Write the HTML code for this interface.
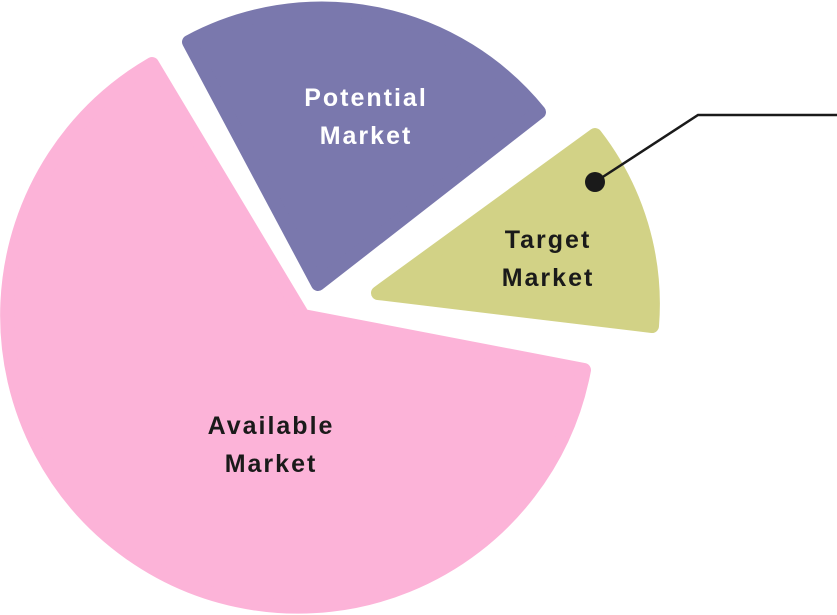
<!DOCTYPE html>
<html><head><meta charset="utf-8"><style>
html,body{margin:0;padding:0;background:#fff;}
svg{display:block;}
text{font-family:"Liberation Sans",sans-serif;font-weight:bold;font-size:25px;letter-spacing:2px;text-anchor:middle;}
</style></head><body>
<svg width="837" height="615" viewBox="0 0 837 615">
<g stroke-linejoin="round" stroke-width="14">
<path d="M303,316 L152,64 A291,291 0 1 0 584,370 Z" fill="#fcb3d8" stroke="#fcb3d8"/>
<path d="M318,284 L189,42 A280,280 0 0 1 539,112 Z" fill="#7a78ad" stroke="#7a78ad"/>
<path d="M378,293 L595,135 A276,276 0 0 1 652,326 Z" fill="#d2d286" stroke="#d2d286"/>
</g>
<polyline points="595,182 698,115 837,115" fill="none" stroke="#1a1a1a" stroke-width="2.5"/>
<circle cx="595" cy="182" r="10" fill="#1a1a1a"/>
<text x="366" y="106" fill="#fff">Potential</text>
<text x="366" y="144" fill="#fff">Market</text>
<text x="548" y="248" fill="#1a1a1a">Target</text>
<text x="548" y="286" fill="#1a1a1a">Market</text>
<text x="271" y="434" fill="#1a1a1a">Available</text>
<text x="271" y="472" fill="#1a1a1a">Market</text>
</svg>
</body></html>
